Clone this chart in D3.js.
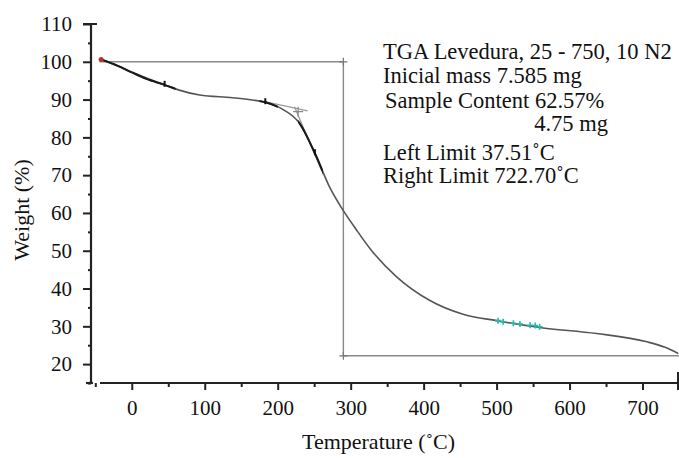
<!DOCTYPE html>
<html>
<head>
<meta charset="utf-8">
<script src="https://cdn.jsdelivr.net/npm/d3@7"></script>
<style>
  body { margin: 0; background: #fff; }
  svg { display: block; }
  text { font-family: "Liberation Serif", "Times New Roman", serif; fill: #111; }
</style>
</head>
<body>
<div id="chart"></div>
<script>
////////////////////////////////////////////////// DATOS

// curva TGA (temperatura en C, peso en %)
const tempC = [-42, -20, 0, 20, 45, 65, 93, 138, 165, 183, 207, 230, 251, 271, 288, 308, 328, 363, 408, 454, 500, 559, 637, 706, 730, 749];
const weightPct = [100.6, 99.0, 97.2, 95.5, 93.9, 92.5, 91.2, 90.5, 89.9, 89.3, 87.4, 83.7, 75.8, 66.9, 61.2, 55.5, 50.2, 43.1, 36.9, 33.2, 31.5, 29.7, 28.1, 25.9, 24.5, 22.8];

// lineas de referencia (escalon de 100% a 22.2%)
const stepT = [-44, 290, 290, 750];
const stepW = [100, 100, 22.2, 22.2];

// tangentes del analisis
const tangT = [[-42, 45], [184, 241], [223, 260]];
const tangW = [[100.6, 93.9], [89.4, 87.0], [88.1, 71.3]];

// marcas sobre la curva
const tickMarkT = [45, 183, 251];
const tickMarkW = [93.9, 89.3, 75.8];
const crossT = [228];
const crossW = [86.8];
const cyanT = [502, 509, 523, 532, 546, 553, 559];
const cyanW = [31.5, 31.2, 30.8, 30.6, 30.3, 30.2, 29.9];

// ejes
const xTicks = [0, 100, 200, 300, 400, 500, 600, 700];
const xMinor = [-50, 50, 150, 250, 350, 450, 550, 650];
const yTicks = [20, 30, 40, 50, 60, 70, 80, 90, 100, 110];
const yMinor = [15, 25, 35, 45, 55, 65, 75, 85, 95, 105];

const infoLines = [
  "TGA Levedura, 25 - 750, 10 N2",
  "Inicial mass 7.585 mg",
  "Sample Content 62.57%",
  "4.75 mg",
  "Left Limit 37.51˚C",
  "Right Limit 722.70˚C"
];
const xTitle = "Temperature (˚C)";
const yTitle = "Weight (%)";

////////////////////////////////////////////////// ESCALAS

const W = 679, H = 458;
const x = d3.scaleLinear().domain([-60, 750]).range([88, 679]);
const y = d3.scaleLinear().domain([15, 110]).range([383, 24]);

const svg = d3.select("#chart").append("svg")
  .attr("width", W).attr("height", H);

////////////////////////////////////////////////// EJES

var gx = svg.append("g").attr("transform", "translate(0,383)")
  .call(d3.axisBottom(x).tickValues(xTicks).tickSize(7).tickPadding(10).tickFormat(d3.format("d")));
gx.select(".domain").remove();
gx.selectAll("line").attr("stroke", "#222").attr("stroke-width", 2);
gx.selectAll("text").style("font-size", "21px").attr("fill", "#111");

svg.append("g").attr("transform", "translate(0,383)")
  .call(d3.axisBottom(x).tickValues(xMinor).tickSize(4).tickFormat(""))
  .call(g => g.select(".domain").remove())
  .selectAll("line").attr("stroke", "#222").attr("stroke-width", 2);

var gy = svg.append("g").attr("transform", "translate(91,0)")
  .call(d3.axisLeft(y).tickValues(yTicks).tickSize(8).tickPadding(11));
gy.select(".domain").remove();
gy.selectAll("line").attr("stroke", "#222").attr("stroke-width", 2);
gy.selectAll("text").style("font-size", "21px").attr("fill", "#111");

svg.append("g").attr("transform", "translate(91,0)")
  .call(d3.axisLeft(y).tickValues(yMinor).tickSize(3).tickFormat(""))
  .call(g => g.select(".domain").remove())
  .selectAll("line").attr("stroke", "#222").attr("stroke-width", 2);

// lineas de los ejes
svg.append("line").attr("x1", 91).attr("x2", 91).attr("y1", y(110)).attr("y2", 384)
  .attr("stroke", "#222").attr("stroke-width", 2.2);
svg.append("line").attr("x1", 100).attr("x2", x(750)).attr("y1", 383).attr("y2", 383)
  .attr("stroke", "#222").attr("stroke-width", 2.2);
svg.append("line").attr("x1", 86).attr("x2", 93).attr("y1", 383).attr("y2", 383)
  .attr("stroke", "#222").attr("stroke-width", 2.2);
// marcas de los extremos
svg.append("line").attr("x1", 83).attr("x2", 97).attr("y1", y(110)).attr("y2", y(110))
  .attr("stroke", "#222").attr("stroke-width", 2);
svg.append("line").attr("x1", x(750) - 1).attr("x2", x(750) - 1).attr("y1", 372).attr("y2", 390)
  .attr("stroke", "#222").attr("stroke-width", 2);

// titulos
svg.append("text").attr("x", (x.range()[0] + x.range()[1]) / 2 - 5).attr("y", 449)
  .attr("text-anchor", "middle").style("font-size", "22px").text(xTitle);
svg.append("text").attr("transform", "translate(29,210) rotate(-90)")
  .attr("text-anchor", "middle").style("font-size", "22px").text(yTitle);

////////////////////////////////////////////////// REFERENCIAS Y TANGENTES

const line = d3.line().x(d => x(d[0])).y(d => y(d[1]));

svg.append("path").datum(stepT.map((t, i) => [t, stepW[i]]))
  .attr("d", line).attr("fill", "none").attr("stroke", "#8a8a8a").attr("stroke-width", 1.4);

// cruces en las esquinas del escalon
[[290, 100], [290, 22.2]].forEach(function (p) {
  svg.append("path")
    .attr("d", `M${x(p[0]) - 4},${y(p[1])}h8M${x(p[0])},${y(p[1]) - 4}v8`)
    .attr("stroke", "#777").attr("stroke-width", 1.2);
});

tangT.forEach(function (t, i) {
  svg.append("path").datum([[t[0], tangW[i][0]], [t[1], tangW[i][1]]])
    .attr("d", line).attr("fill", "none").attr("stroke", "#9a9a9a").attr("stroke-width", 1.3);
});

////////////////////////////////////////////////// CURVA

const curve = d3.line().curve(d3.curveMonotoneX).x(d => x(d[0])).y(d => y(d[1]));
const pts = tempC.map((t, i) => [t, weightPct[i]]);

svg.append("path").datum(pts).attr("d", curve)
  .attr("fill", "none").attr("stroke", "#555").attr("stroke-width", 1.6);

// tramos oscuros de la curva
const dark = [[-42, 60], [175, 200], [228, 262]];
dark.forEach(function (r, i) {
  svg.append("clipPath").attr("id", "clip" + i).append("rect")
    .attr("x", x(r[0])).attr("width", x(r[1]) - x(r[0])).attr("y", 0).attr("height", H);
  svg.append("path").datum(pts).attr("d", curve).attr("clip-path", `url(#clip${i})`)
    .attr("fill", "none").attr("stroke", "#1a1a1a").attr("stroke-width", 2);
});

// marcas pequenas
tickMarkT.forEach(function (t, i) {
  svg.append("line").attr("x1", x(t)).attr("x2", x(t))
    .attr("y1", y(tickMarkW[i]) - 4).attr("y2", y(tickMarkW[i]) + 2)
    .attr("stroke", "#111").attr("stroke-width", 2);
});
crossT.forEach(function (t, i) {
  svg.append("path")
    .attr("d", `M${x(t) - 5},${y(crossW[i])}h10M${x(t)},${y(crossW[i]) - 5}v10`)
    .attr("stroke", "#888").attr("stroke-width", 1.2);
});
cyanT.forEach(function (t, i) {
  svg.append("path")
    .attr("d", `M${x(t) - 3},${y(cyanW[i])}h6M${x(t)},${y(cyanW[i]) - 3}v6`)
    .attr("stroke", "#2bb5b0").attr("stroke-width", 1.6);
});
svg.append("circle").attr("cx", x(tempC[0])).attr("cy", y(weightPct[0])).attr("r", 2.5)
  .attr("fill", "#b5312e");

////////////////////////////////////////////////// TEXTO DEL ANALISIS

const infoPos = [[383, 59, "start"], [383, 83, "start"], [385, 108, "start"],
                 [608, 131, "end"], [383, 160, "start"], [383, 183, "start"]];
infoLines.forEach(function (s, i) {
  svg.append("text").attr("x", infoPos[i][0]).attr("y", infoPos[i][1])
    .attr("text-anchor", infoPos[i][2]).style("font-size", "22.5px").text(s);
});
</script>
</body>
</html>
